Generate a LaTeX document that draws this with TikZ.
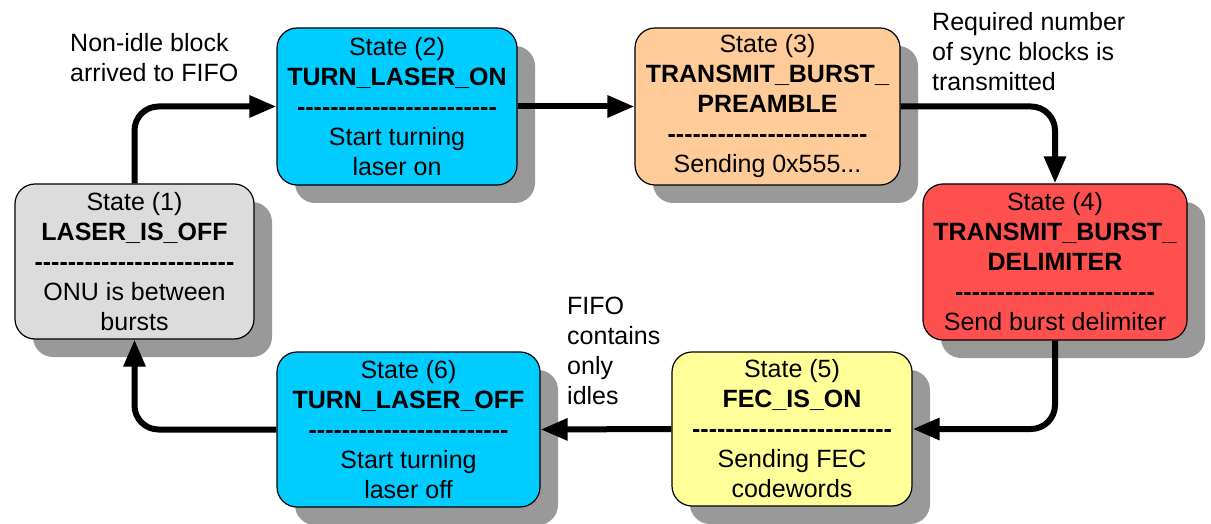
\documentclass[tikz,border=0pt]{standalone}
\usepackage{fontspec}
\setmainfont{Liberation Sans}
\usetikzlibrary{arrows.meta,shadows}
\newcommand\hy{-\kern0pt}
\newcommand\hyfour{\hy\hy\hy\hy}
\newcommand\dashrow{\textbf{\hyfour\hyfour\hyfour\hyfour\hyfour\hyfour}}
\definecolor{graybox}{HTML}{DCDCDC}
\definecolor{cyanbox}{HTML}{00CCFF}
\definecolor{peachbox}{HTML}{FFCC99}
\definecolor{redbox}{HTML}{FF5050}
\definecolor{yellowbox}{HTML}{FFFF99}
\definecolor{shadowgray}{HTML}{999999}
\begin{document}
\begin{tikzpicture}[x=1pt,y=-1pt,
  state/.style={draw=black, line width=1.2pt, rounded corners=20pt, align=center,
    inner sep=0pt, font=\fontsize{25}{30}\selectfont,
    drop shadow={shadow xshift=18pt, shadow yshift=-18pt, fill=shadowgray, opacity=1}},
  flow/.style={line width=6pt, rounded corners=24pt, -{Triangle[length=27pt,width=21pt]}},
  lbl/.style={align=left, anchor=west, inner sep=0pt, font=\fontsize{25}{30}\selectfont}]
\useasboundingbox (0,0) rectangle (1211,524);

\node[state, fill=graybox, minimum width=239pt, minimum height=155pt] (b1) at (134.5,261.5)
  {State (1)\\\textbf{LASER\_IS\_OFF}\\\dashrow\\ONU is between\\bursts};
\node[state, fill=cyanbox, minimum width=240pt, minimum height=157pt] (b2) at (397,106.5)
  {State (2)\\\textbf{TURN\_LASER\_ON}\\\dashrow\\Start turning\\laser on};
\node[state, fill=peachbox, minimum width=265pt, minimum height=157pt] (b3) at (767.5,106.5)
  {State (3)\\\textbf{TRANSMIT\_BURST\_}\\\textbf{PREAMBLE}\\\dashrow\\Sending 0x555...};
\node[state, fill=redbox, minimum width=264pt, minimum height=156pt] (b4) at (1055,262)
  {State (4)\\\textbf{TRANSMIT\_BURST\_}\\\textbf{DELIMITER}\\\dashrow\\Send burst delimiter};
\node[state, fill=yellowbox, minimum width=240pt, minimum height=154pt] (b5) at (792,429)
  {State (5)\\\textbf{FEC\_IS\_ON}\\\dashrow\\Sending FEC\\codewords};
\node[state, fill=cyanbox, minimum width=263pt, minimum height=155pt] (b6) at (408.5,429.5)
  {State (6)\\\textbf{TURN\_LASER\_OFF}\\\dashrow\\Start turning\\laser off};

\draw[flow] (b1.north) |- (b2.west);
\draw[flow] (b2.east) -- (b3.west);
\draw[flow] (b3.east) -| (b4.north);
\draw[flow] (b4.south) |- (b5.east);
\draw[flow] (b5.west) -- (b6.east);
\draw[flow] (b6.west) -| (b1.south);

\node[lbl] (l1) at (70,58) {Non-idle block\\arrived to FIFO};
\node[lbl] (l2) at (932,52) {Required number\\of sync blocks is\\transmitted};
\node[lbl] (l3) at (567,351) {FIFO\\contains\\only\\idles};
\end{tikzpicture}
\end{document}
